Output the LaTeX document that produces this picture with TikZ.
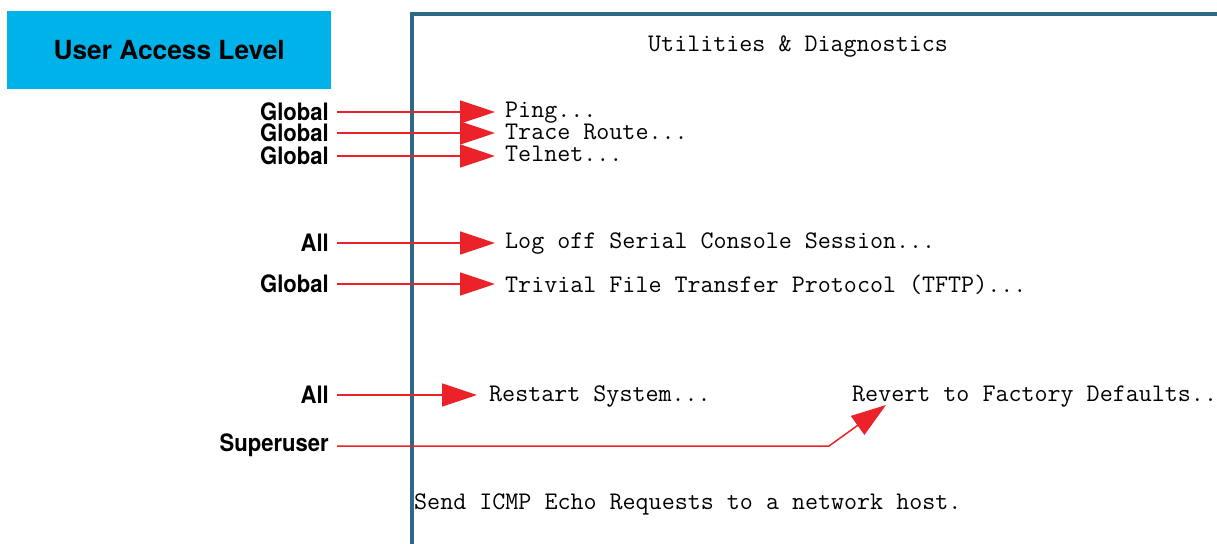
\documentclass[tikz,border=0pt]{standalone}
\usepackage{fontspec}
\setsansfont{TeX Gyre Heros}
\usetikzlibrary{arrows.meta}
\definecolor{hdrblue}{RGB}{0,178,234}
\definecolor{framec}{RGB}{46,104,135}
\definecolor{arrred}{RGB}{236,34,42}
\tikzset{
  lvl/.style={anchor=east, inner sep=0pt, font=\sffamily\bfseries\fontsize{24}{26}\selectfont, xscale=0.92, text height=17pt, text depth=0pt},
  item/.style={anchor=west, inner sep=0pt, font=\ttfamily\fontsize{25.3}{28}\selectfont, text height=14.5pt, text depth=0pt},
  arr/.style={draw=arrred, line width=1.5pt, -{Triangle[length=35pt,width=23pt,fill=arrred,color=arrred]}},
}
\begin{document}
\begin{tikzpicture}[x=1pt,y=-1pt]
\clip (0,0) rectangle (1217,543);
\useasboundingbox (0,0) rectangle (1217,543);
% header
\node[fill=hdrblue, minimum width=324pt, minimum height=78pt, inner sep=0pt, anchor=north west,
  font=\sffamily\bfseries\fontsize{26.3}{28}\selectfont] (hdr) at (7,11) {User Access Level};
% frame
\draw[framec, line width=4pt] (412,560) -- (412,14) -- (1240,14);
% items
\node[item] (title) at (648,44) {Utilities \& Diagnostics};
\node[item] (ping) at (505,110) {Ping...};
\node[item] (trace) at (505,132) {Trace Route...};
\node[item] (telnet) at (505,154) {Telnet...};
\node[item] (logoff) at (505,241) {Log off Serial Console Session...};
\node[item] (tftp) at (505,285) {Trivial File Transfer Protocol (TFTP)...};
\node[item] (restart) at (489,394) {Restart System...};
\node[item] (revert) at (852,394) {Revert to Factory Defaults...};
\node[item] (send) at (414,502) {Send ICMP Echo Requests to a network host.};
% levels
\node[lvl] (g1) at (329,112) {Global};
\node[lvl] (g2) at (329,133) {Global};
\node[lvl] (g3) at (329,156) {Global};
\node[lvl] (a1) at (329,243) {All};
\node[lvl] (g4) at (329,284) {Global};
\node[lvl] (a2) at (329,395) {All};
\node[lvl] (su) at (329,443) {Superuser};
% arrows
\draw[arr, shorten <=8pt, shorten >=10pt] (g1.east) -- (g1.east -| ping.west);
\draw[arr, shorten <=8pt, shorten >=10pt] (g2.east) -- (g2.east -| trace.west);
\draw[arr, shorten <=8pt, shorten >=10pt] (g3.east) -- (g3.east -| telnet.west);
\draw[arr, shorten <=8pt, shorten >=10pt] (a1.east) -- (a1.east -| logoff.west);
\draw[arr, shorten <=8pt, shorten >=10pt] (g4.east) -- (g4.east -| tftp.west);
\draw[arr, shorten <=8pt, shorten >=12pt] (a2.east) -- (a2.east -| restart.west);
\coordinate (knee) at (829,446);
\coordinate (revtip) at (886,405);
\draw[arr] ([xshift=8pt,yshift=-3pt]su.east) -- (knee) -- (revtip);
\end{tikzpicture}
\end{document}
